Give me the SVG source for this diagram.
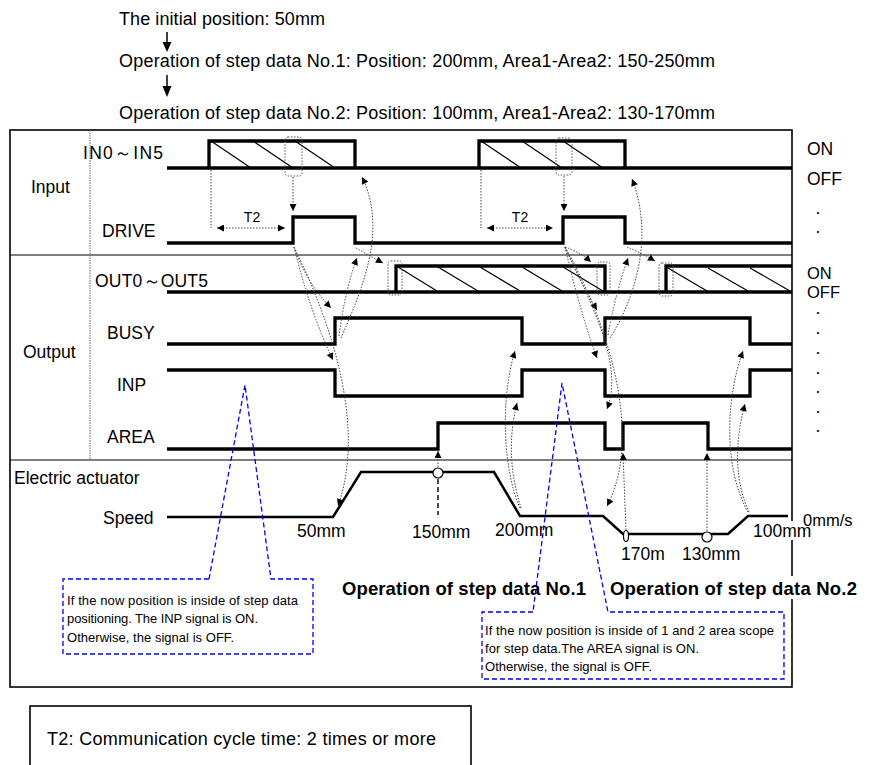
<svg xmlns="http://www.w3.org/2000/svg" width="870" height="765" viewBox="0 0 870 765">
<defs>
<style>
text{font-family:"Liberation Sans",Arial,sans-serif;fill:#000}
.t18{font-size:18px}
.lb{font-size:17.5px}
.st{font-size:16.5px}
.bd{font-size:18.5px;font-weight:bold}
.sm{font-size:13px}
.t2{font-size:14px}
.sig{fill:none;stroke:#000;stroke-width:3.3;stroke-linejoin:miter;stroke-linecap:butt}
.spd{fill:none;stroke:#000;stroke-width:2.5;stroke-linejoin:miter}
.hat{stroke:#000;stroke-width:1.2}
.dbox{fill:none;stroke:#555;stroke-width:1;stroke-dasharray:1.5,1.5}
.dot{fill:none;stroke:#444;stroke-width:1;stroke-dasharray:1.5,1.5}
.blue{fill:none;stroke:#0000ff;stroke-width:1.3;stroke-dasharray:5,3}
.frame{fill:none;stroke:#000;stroke-width:1.6}
</style>
<marker id="ah" viewBox="0 0 10 10" refX="10" refY="5" markerWidth="8" markerHeight="7" markerUnits="userSpaceOnUse" orient="auto-start-reverse">
<path d="M0,0 L10,5 L0,10 z" fill="#000"/>
</marker>
</defs>
<rect width="870" height="765" fill="#fff"/>

<g id="title">
<text class="t18" x="119" y="25" textLength="206">The initial position: 50mm</text>
<line x1="167" y1="32" x2="167" y2="44" stroke="#000" stroke-width="1.5"/>
<polygon points="162.5,42 171.5,42 167,52" fill="#000"/>
<text class="t18" x="119" y="67" textLength="596">Operation of step data No.1: Position: 200mm, Area1-Area2: 150-250mm</text>
<line x1="167" y1="75" x2="167" y2="88" stroke="#000" stroke-width="1.5"/>
<polygon points="162.5,86 171.5,86 167,97" fill="#000"/>
<text class="t18" x="119" y="119" textLength="596">Operation of step data No.2: Position: 100mm, Area1-Area2: 130-170mm</text>
</g>

<g id="frame">
<rect class="frame" x="10" y="130" width="782" height="557"/>
<line x1="10" y1="255" x2="792" y2="255" stroke="#000" stroke-width="1.2"/>
<line x1="10" y1="460" x2="792" y2="460" stroke="#000" stroke-width="1.2"/>
<line x1="90" y1="130" x2="90" y2="460" stroke="#666" stroke-width="1" stroke-dasharray="1.5,1"/>
<text class="lb" x="31" y="193">Input</text>
<text class="lb" x="23" y="358">Output</text>
<text class="lb" x="14" y="484">Electric actuator</text>
</g>

<g id="sig-in">
<text class="lb" x="83" y="159" textLength="80">IN0～IN5</text>
<path class="sig" d="M167,168 H792 M209,168 V141 H355 V168 M479,168 V141 H625 V168"/>
<path class="hat" d="M211,141 L251,168 M253,141 L293,168 M295,141 L335,168 M481,141 L521,168 M522,141 L562,168 M563,141 L603,168"/>
<rect class="dbox" x="285" y="137" width="17" height="39" rx="3"/>
<rect class="dbox" x="556" y="138" width="16" height="37" rx="3"/>
</g>

<g id="sig-drive">
<text class="lb" x="102" y="237">DRIVE</text>
<path class="sig" d="M167,243 H293 V217 H355 V243 H563 V217 H625 V243 H792"/>
<text class="t2" x="252" y="222" text-anchor="middle">T2</text>
<text class="t2" x="520" y="222" text-anchor="middle">T2</text>
</g>

<g id="sig-out">
<text class="lb" x="95" y="287" textLength="113">OUT0～OUT5</text>
<path class="sig" d="M167,292 H792 M396,292 V266 H605 V292 M666,292 V266 H792"/>
<path class="hat" d="M398,267 L437,291 M438,267 L478,291 M480,267 L520,291 M522,267 L562,291 M563,267 L603,291 M668,268 L707,291 M708,268 L748,291 M750,268 L790,291"/>
<rect class="dbox" x="388" y="261" width="14" height="34" rx="3"/>
<rect class="dbox" x="597" y="262" width="13" height="33" rx="3"/>
<rect class="dbox" x="659" y="263" width="14" height="33" rx="3"/>
</g>

<g id="sig-busy">
<text class="lb" x="107" y="339">BUSY</text>
<path class="sig" d="M167,344 H335 V318 H522 V344 H605 V318 H750 V344 H792"/>
</g>

<g id="sig-inp">
<text class="lb" x="117" y="391">INP</text>
<path class="sig" d="M167,370 H335 V396 H522 V370 H605 V396 H750 V370 H792"/>
</g>

<g id="sig-area">
<text class="lb" x="107" y="443">AREA</text>
<path class="sig" d="M167,449 H438 V423 H605 V449 H623 V423 H708 V449 H792"/>
</g>

<g id="speed">
<text class="lb" x="103" y="524">Speed</text>
<polyline class="spd" points="167,517 333,517 361,472 494,472 520,516 603,516 623,534 728,534 748,516 788,516"/>
<circle cx="438" cy="473" r="5" fill="#fff" stroke="#000" stroke-width="1.2"/>
<ellipse cx="626" cy="536" rx="2.5" ry="5.5" fill="#fff" stroke="#000" stroke-width="1.2"/>
<circle cx="707" cy="537" r="5" fill="#fff" stroke="#000" stroke-width="1.2"/>
<line x1="438" y1="479" x2="438" y2="515" stroke="#000" stroke-width="1.4" stroke-dasharray="5,3"/>
<text class="lb" x="297" y="537">50mm</text>
<text class="lb" x="412" y="538">150mm</text>
<text class="lb" x="495" y="536">200mm</text>
<rect x="752" y="521" width="62" height="19" fill="#fff"/>
<text class="lb" x="753" y="537">100mm</text>
<text class="st" x="803" y="526">0mm/s</text>
<text class="lb" x="621" y="560">170m</text>
<text class="lb" x="682" y="560">130mm</text>
</g>

<g id="states">
<text class="lb" x="807" y="155">ON</text>
<text class="lb" x="807" y="185">OFF</text>
<text class="lb" x="815.5" y="214">.</text>
<text class="lb" x="815.5" y="233">.</text>
<text class="st" x="807" y="279">ON</text>
<text class="st" x="807" y="298">OFF</text>
<text class="lb" x="815.5" y="314">.</text>
<text class="lb" x="815.5" y="334">.</text>
<text class="lb" x="815.5" y="354">.</text>
<text class="lb" x="815.5" y="374">.</text>
<text class="lb" x="815.5" y="393">.</text>
<text class="lb" x="815.5" y="413">.</text>
<text class="lb" x="815.5" y="432">.</text>
</g>

<g id="connectors">
<path class="dot" d="M293,177 L293,211" marker-end="url(#ah)"/>
<path class="dot" d="M211,170 L211,228"/>
<path class="dot" d="M217,228 L285,228" marker-start="url(#ah)" marker-end="url(#ah)"/>
<path class="dot" d="M294,247 Q306,282 331,308" marker-end="url(#ah)"/>
<path class="dot" d="M294,247 Q310,312 333,360" marker-end="url(#ah)"/>
<path class="dot" d="M294,247 C335,330 365,430 338,506" marker-end="url(#ah)"/>
<path class="dot" d="M339,336 Q345,290 357,258" marker-end="url(#ah)"/>
<path class="dot" d="M341,338 C362,290 388,230 362,177" marker-end="url(#ah)"/>
<path class="dot" d="M356,248 Q368,255 383,263" marker-end="url(#ah)"/>
<path class="dot" d="M438,467 L438,451" marker-end="url(#ah)"/>
<path class="dot" d="M520,508 C503,470 500,400 515,351" marker-end="url(#ah)"/>
<path class="dot" d="M521,508 C510,472 508,440 517,403" marker-end="url(#ah)"/>

<path class="dot" d="M564,176 L564,211" marker-end="url(#ah)"/>
<path class="dot" d="M481,170 L481,228"/>
<path class="dot" d="M487,228 L553,228" marker-start="url(#ah)" marker-end="url(#ah)"/>
<path class="dot" d="M565,247 Q580,252 591,262" marker-end="url(#ah)"/>
<path class="dot" d="M565,247 Q580,282 597,310" marker-end="url(#ah)"/>
<path class="dot" d="M565,247 Q580,312 597,358" marker-end="url(#ah)"/>
<path class="dot" d="M565,247 C600,320 622,370 607,409" marker-end="url(#ah)"/>
<path class="dot" d="M565,247 C612,330 642,440 607,506" marker-end="url(#ah)"/>
<path class="dot" d="M608,335 Q615,295 628,258" marker-end="url(#ah)"/>
<path class="dot" d="M610,338 C640,290 652,230 632,179" marker-end="url(#ah)"/>
<path class="dot" d="M627,247 Q640,252 655,261" marker-end="url(#ah)"/>
<path class="dot" d="M626,530 L623,453" marker-end="url(#ah)"/>
<path class="dot" d="M707,531 L707,453" marker-end="url(#ah)"/>
<path class="dot" d="M748,512 C724,470 725,400 743,351" marker-end="url(#ah)"/>
<path class="dot" d="M749,512 C734,480 735,440 745,404" marker-end="url(#ah)"/>
</g>

<g id="phase-labels">
<text class="bd" x="342" y="595" textLength="244">Operation of step data No.1</text>
<rect x="608" y="576" width="252" height="23" fill="#fff"/>
<text class="bd" x="610" y="595" textLength="247">Operation of step data No.2</text>
</g>

<g id="callout-inp">
<path class="blue" d="M209,579 L63,579 L63,654 L313,654 L313,579 L271,579 L245,385 Z"/>
<text class="sm" x="67" y="605" textLength="231">If the now position is inside of step data</text>
<text class="sm" x="67" y="623" textLength="191">positioning. The INP signal is  ON.</text>
<text class="sm" x="67" y="642" textLength="167">Otherwise, the signal is OFF.</text>
</g>

<g id="callout-area">
<path class="blue" d="M533,612 L482,612 L482,679 L784,679 L784,612 L608,612 L562,383 Z"/>
<text class="sm" x="485" y="635" textLength="289">If the now position is inside of 1 and 2 area scope</text>
<text class="sm" x="485" y="653" textLength="214">for step data.The AREA signal is  ON.</text>
<text class="sm" x="485" y="671" textLength="167">Otherwise, the signal is OFF.</text>
</g>

<g id="note">
<rect x="30" y="706" width="441" height="80" fill="none" stroke="#000" stroke-width="1.6"/>
<text class="t18" x="47" y="745" textLength="389">T2: Communication cycle time: 2 times or more</text>
</g>
</svg>
